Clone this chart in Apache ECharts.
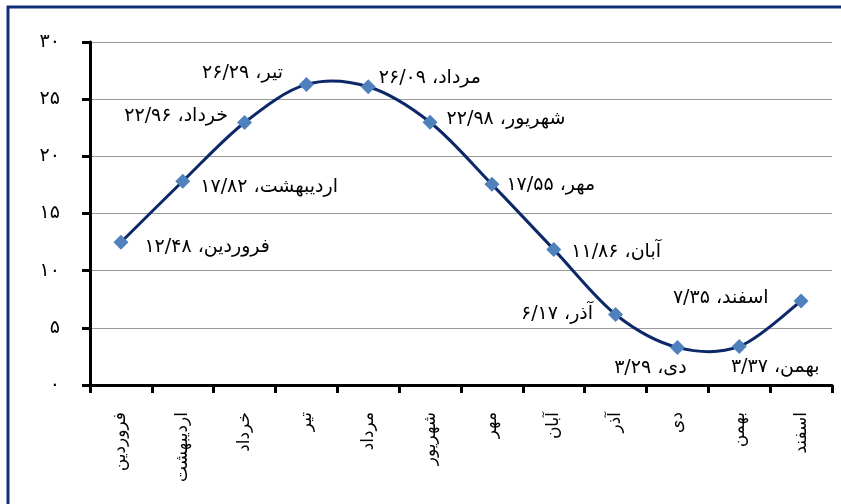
<!DOCTYPE html>
<html>
<head>
<meta charset="utf-8">
<script src="https://cdn.jsdelivr.net/npm/echarts@6/dist/echarts.min.js"></script>
<style>
  html,body{margin:0;padding:0;background:#fff;overflow:hidden}
  #chart{width:841px;height:504px}
</style>
</head>
<body>
<div id="chart"></div>
<script>
  // ماه‌ها و مقادیر (خوانده شده از تصویر)
  var months = ["فروردین","اردیبهشت","خرداد","تیر","مرداد","شهریور","مهر","آبان","آذر","دی","بهمن","اسفند"];
  var values = [12.48, 17.82, 22.96, 26.29, 26.09, 22.98, 17.55, 11.86, 6.17, 3.29, 3.37, 7.35];

  var FA = "۰۱۲۳۴۵۶۷۸۹";
  function fa(s){ return String(s).replace(/[0-9]/g, function(d){ return FA[+d]; }); }
  function faNum(v){ return fa(v.toFixed(2).replace(".", "/")); }

  // جای برچسب هر نقطه
  var place = [
    { position:"right",  distance:16, offset:[0,5] },
    { position:"right",  distance:10, offset:[0,6] },
    { position:"left",   distance:9,  offset:[0,-6] },
    { position:"left",   distance:16, offset:[0,-11] },
    { position:"right",  distance:3,  offset:[0,-9] },
    { position:"right",  distance:9,  offset:[0,-3] },
    { position:"right",  distance:7,  offset:[0,1] },
    { position:"right",  distance:10, offset:[0,3] },
    { position:"left",   distance:15, offset:[0,0] },
    { position:"bottom", distance:4,  offset:[-27,0] },
    { position:"bottom", distance:4,  offset:[36,0] },
    { position:"left",   distance:25, offset:[0,-3] }
  ];

  var font = "DejaVu Sans";
  var data = values.map(function(v,i){ return { value:v, label: place[i] }; });

  // منحنی هموار شبیه اکسل (Catmull-Rom) روی مختصات خود نمودار
  function renderCurve(params, api){
    if(params.dataIndex !== 0) return null;
    var pts = values.map(function(v,i){ return api.coord([i, v]); });
    var n = pts.length, d = "M" + pts[0][0] + "," + pts[0][1];
    for(var i=0;i<n-1;i++){
      var p0 = pts[Math.max(0,i-1)], p1 = pts[i], p2 = pts[i+1], p3 = pts[Math.min(n-1,i+2)];
      var c1x = p1[0] + (p2[0]-p0[0])/6, c1y = p1[1] + (p2[1]-p0[1])/6;
      var c2x = p2[0] - (p3[0]-p1[0])/6, c2y = p2[1] - (p3[1]-p1[1])/6;
      d += " C" + c1x + "," + c1y + " " + c2x + "," + c2y + " " + p2[0] + "," + p2[1];
    }
    return { type:"path", shape:{ pathData:d }, style:{ fill:"none", stroke:"#0c2868", lineWidth:3 } };
  }

  var chart = echarts.init(document.getElementById("chart"), null, { renderer:"canvas" });
  chart.setOption({
    animation:false,
    backgroundColor:"#fff",
    graphic:[{
      type:"rect", z:-1, silent:true,
      shape:{ x:8, y:7, width:900, height:600 },
      style:{ fill:"none", stroke:"#12307a", lineWidth:3 }
    }],
    grid:{ left:90, right:9, top:42, bottom:119, containLabel:false },
    xAxis:{
      type:"category",
      data:months,
      boundaryGap:true,
      axisLine:{ lineStyle:{ color:"#000", width:3 } },
      axisTick:{ show:true, length:8, lineStyle:{ color:"#000", width:3 } },
      axisLabel:{ rotate:90, margin:27, color:"#000", fontFamily:font, fontSize:17, interval:0 },
      splitLine:{ show:false }
    },
    yAxis:{
      type:"value",
      min:0, max:30, interval:5,
      axisLine:{ show:true, lineStyle:{ color:"#000", width:3 } },
      axisTick:{ show:true, length:8, lineStyle:{ color:"#000", width:3 } },
      axisLabel:{ margin:30, color:"#000", fontFamily:font, fontSize:19,
                  formatter:function(v){ return fa(v); } },
      splitLine:{ show:true, lineStyle:{ color:"#9a9a9a", width:1 } }
    },
    series:[{
      type:"custom",
      data:values,
      renderItem:renderCurve,
      silent:true,
      z:2
    },{
      type:"line",
      data:data,
      symbol:"diamond",
      symbolSize:15,
      itemStyle:{ color:"#4f81bd" },
      lineStyle:{ width:0 },
      z:3,
      label:{
        show:true, color:"#000", fontFamily:font, fontSize:19,
        formatter:function(p){ return months[p.dataIndex] + "، " + faNum(p.value); }
      }
    }]
  });
</script>
</body>
</html>
